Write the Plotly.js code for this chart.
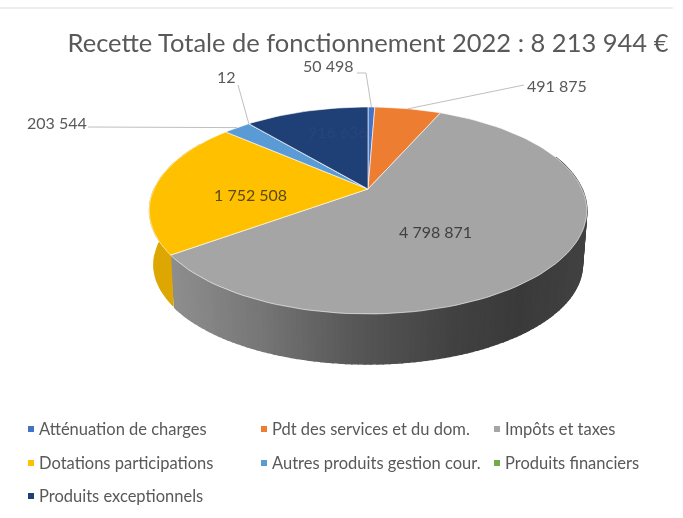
<!DOCTYPE html>
<html><head><meta charset="utf-8">
<script src="https://cdn.plot.ly/plotly-3.0.1.min.js"></script>
<style>html,body{margin:0;padding:0;background:#fff;overflow:hidden}#c{width:683px;height:518px;filter:blur(0.7px)}</style>
</head><body><div id="c"></div>
<script>
// Data
const categories = ["Atténuation de charges","Pdt des services et du dom.","Impôts et taxes","Dotations participations","Autres produits gestion cour.","Produits financiers","Produits exceptionnels"];
const values = [50498,491875,4798871,1752508,203544,12,916636];
const valueLabels = ["50 498","491 875","4 798 871","1 752 508","203 544","12","916 636"];
const titleText = "Recette Totale de fonctionnement 2022 : 8 213 944 €";
const colors = ["#4472C4","#ED7D31","#A5A5A5","#FFC000","#5B9BD5","#70AD47","#1F3F77"];

// Label layout (pixel space of the figure)
const labelX = [328,557,435,250,57,226,338];
const labelY = [65,85,231,194,122,76,131];
const labelColor = ["#595959","#595959","#404040","#5a4a10","#595959","#595959","#27457c"];
const leaderFrom = [[357,73],[524,85],null,null,[88,127],[238,85],null];
const leaderElbow = [[366,73],[524,85],null,null,[130,127],[238,85],null];
const legendX = [31,264,497,31,264,497,31];
const legendY = [429,429,429,463,463,463,496];

// Perspective model of the disc
const cx=368, cy=189, A=214, B=99, k=0.2077, wallScaleX=0.98, wallScaleY=0.96, wallCy=244;
function topPt(deg){const a=deg*Math.PI/180,u=Math.sin(a),v=Math.cos(a),w=1+k*v;return [cx+A*u/w,cy-B*v/w];}
function lowPt(deg){const a=deg*Math.PI/180,u=Math.sin(a),v=Math.cos(a),w=1+k*v;return [cx+wallScaleX*A*u/w,wallCy-wallScaleY*B*v/w];}
const total=values.reduce((a,b)=>a+b,0);
const bounds=[0];values.forEach(v=>bounds.push(bounds[bounds.length-1]+v/total*360));

function mix(stops,x){for(let i=0;i<stops.length-1;i++){if(x<=stops[i+1][0]){const t=Math.max(0,(x-stops[i][0])/(stops[i+1][0]-stops[i][0]));const c=stops[i][1]+(stops[i+1][1]-stops[i][1])*t;const g=Math.round(c);return `rgb(${g},${g},${g})`;}}const g=stops[stops.length-1][1];return `rgb(${g},${g},${g})`;}
const wallStops=[[170,142],[260,118],[350,88],[450,66],[520,58],[590,66]];

const traces=[];
function poly(pts,color,line,name,width){traces.push({type:'scatter',mode:'lines',x:pts.map(p=>p[0]),y:pts.map(p=>p[1]),fill:'toself',fillcolor:color,line:{color:line,width:width||1},name:name,hoverinfo:'skip',showlegend:false});}

// Side wall: grey part, shaded in strips
const gStart=70,gEnd=bounds[3],n=120;
for(let i=0;i<n;i++){
  const a=gStart+(gEnd-gStart)*i/n,b=gStart+(gEnd-gStart)*(i+1)/n;
  const col=mix(wallStops,topPt((a+b)/2)[0]);
  poly([topPt(a),topPt(b),lowPt(b),lowPt(a),topPt(a)],col,col,categories[2]+" (côté)",1.5);
}
// Side wall: yellow part
{const pts=[];for(let d=bounds[3];d<=bounds[4]-10;d+=2)pts.push(topPt(d));for(let d=bounds[4]-10;d>=bounds[3];d-=2)pts.push(lowPt(d));pts.push(pts[0]);poly(pts,"#DDA600","#DDA600",categories[3]+" (côté)");}

// Top face
values.forEach((v,i)=>{
  const pts=[[cx,cy]];const a=bounds[i],b=bounds[i+1],steps=Math.max(2,Math.ceil((b-a)/2));
  for(let s=0;s<=steps;s++)pts.push(topPt(a+(b-a)*s/steps));
  pts.push([cx,cy]);
  poly(pts,colors[i],"rgba(255,255,255,0.6)",categories[i]);
});

// Leader lines
leaderFrom.forEach((f,i)=>{if(!f)return;const e=topPt((bounds[i]+bounds[i+1])/2),m=leaderElbow[i];
  traces.push({type:'scatter',mode:'lines',x:[f[0],m[0],e[0]],y:[f[1],m[1],e[1]],line:{color:"#bfbfbf",width:1},hoverinfo:'skip',showlegend:false});});

// Legend swatches
categories.forEach((c,i)=>{traces.push({type:'scatter',mode:'markers',x:[legendX[i]],y:[legendY[i]],marker:{symbol:'square',size:6,color:colors[i]},name:c,hoverinfo:'skip',showlegend:false});});

const font="Lato, 'Open Sans', sans-serif";
const annotations=[];
valueLabels.forEach((t,i)=>annotations.push({x:labelX[i],y:labelY[i],xref:'x',yref:'y',text:t,showarrow:false,xanchor:'center',yanchor:'middle',font:{family:font,size:16,color:labelColor[i]}}));
categories.forEach((c,i)=>annotations.push({x:legendX[i]+6,y:legendY[i],xref:'x',yref:'y',text:c,showarrow:false,xanchor:'left',yanchor:'middle',font:{family:font,size:16.5,color:"#595959"}}));

const layout={width:683,height:518,margin:{l:0,r:0,t:0,b:0},paper_bgcolor:'#fff',plot_bgcolor:'#fff',showlegend:false,hovermode:false,
  title:{text:titleText,x:368/683,xanchor:'center',y:1-43/518,yanchor:'middle',font:{family:font,size:25.5,color:"#595959"}},
  xaxis:{range:[0,683],visible:false,fixedrange:true},
  yaxis:{range:[518,0],visible:false,fixedrange:true},
  shapes:[{type:'line',xref:'paper',yref:'paper',x0:0,x1:0.985,y0:1-8/518,y1:1-8/518,line:{color:"#dcdcdc",width:1}}],
  annotations:annotations};
Plotly.newPlot('c',traces,layout,{staticPlot:true,displayModeBar:false});
</script></body></html>
